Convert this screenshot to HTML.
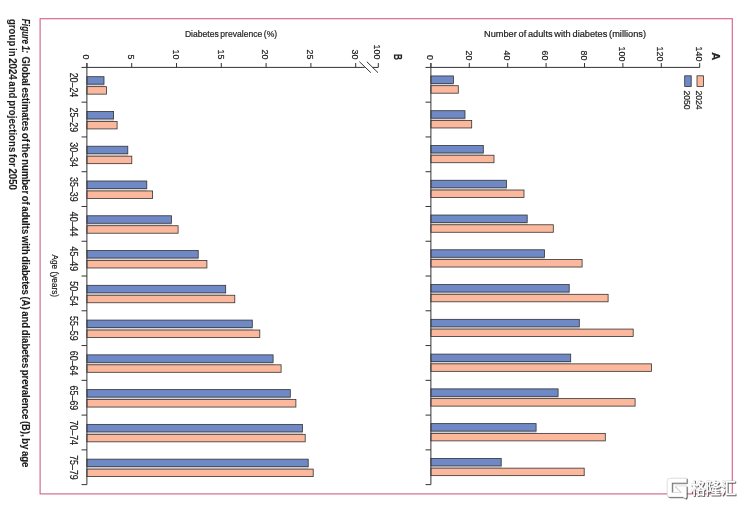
<!DOCTYPE html>
<html lang="en"><head><meta charset="utf-8"><title>Figure 1</title>
<style>html,body{margin:0;padding:0;background:#fff}body{width:742px;height:505px;overflow:hidden;position:relative}svg{display:block;position:absolute;left:0;top:0}text{font-family:"Liberation Sans","Noto Sans CJK SC",sans-serif;fill:#1c1c1c}.t{font-size:9.5px;stroke:#1c1c1c;stroke-width:0.2px}.cap{font-size:10px;font-weight:bold;fill:#1c1c1c;stroke:#1c1c1c;stroke-width:0.1px;word-spacing:-1.1px}.wm{font-family:"Liberation Sans","Noto Sans CJK SC",sans-serif;font-weight:500}</style></head><body>
<svg width="742" height="505" viewBox="0 0 742 505">
<rect x="0" y="0" width="742" height="505" fill="#fff"/>
<rect x="40.1" y="18.7" width="692.2" height="475.2" fill="none" stroke="#d66688" stroke-width="1.15"/>
<rect x="430.90" y="83.44" width="22.90" height="2.35" fill="#d6d6d6"/>
<rect x="430.90" y="75.94" width="22.50" height="7.5" fill="#6f88c6" stroke="#333" stroke-width="0.8"/>
<rect x="430.90" y="85.69" width="27.40" height="7.5" fill="#fbb89d" stroke="#333" stroke-width="0.8"/>
<rect x="430.90" y="118.21" width="34.50" height="2.35" fill="#d6d6d6"/>
<rect x="430.90" y="110.71" width="34.10" height="7.5" fill="#6f88c6" stroke="#333" stroke-width="0.8"/>
<rect x="430.90" y="120.46" width="40.80" height="7.5" fill="#fbb89d" stroke="#333" stroke-width="0.8"/>
<rect x="430.90" y="152.98" width="52.80" height="2.35" fill="#d6d6d6"/>
<rect x="430.90" y="145.48" width="52.40" height="7.5" fill="#6f88c6" stroke="#333" stroke-width="0.8"/>
<rect x="430.90" y="155.23" width="63.10" height="7.5" fill="#fbb89d" stroke="#333" stroke-width="0.8"/>
<rect x="430.90" y="187.75" width="75.90" height="2.35" fill="#d6d6d6"/>
<rect x="430.90" y="180.25" width="75.50" height="7.5" fill="#6f88c6" stroke="#333" stroke-width="0.8"/>
<rect x="430.90" y="190.00" width="93.10" height="7.5" fill="#fbb89d" stroke="#333" stroke-width="0.8"/>
<rect x="430.90" y="222.52" width="96.70" height="2.35" fill="#d6d6d6"/>
<rect x="430.90" y="215.02" width="96.30" height="7.5" fill="#6f88c6" stroke="#333" stroke-width="0.8"/>
<rect x="430.90" y="224.77" width="122.40" height="7.5" fill="#fbb89d" stroke="#333" stroke-width="0.8"/>
<rect x="430.90" y="257.28" width="114.00" height="2.35" fill="#d6d6d6"/>
<rect x="430.90" y="249.78" width="113.60" height="7.5" fill="#6f88c6" stroke="#333" stroke-width="0.8"/>
<rect x="430.90" y="259.53" width="151.20" height="7.5" fill="#fbb89d" stroke="#333" stroke-width="0.8"/>
<rect x="430.90" y="292.06" width="138.70" height="2.35" fill="#d6d6d6"/>
<rect x="430.90" y="284.56" width="138.30" height="7.5" fill="#6f88c6" stroke="#333" stroke-width="0.8"/>
<rect x="430.90" y="294.31" width="177.20" height="7.5" fill="#fbb89d" stroke="#333" stroke-width="0.8"/>
<rect x="430.90" y="326.83" width="148.80" height="2.35" fill="#d6d6d6"/>
<rect x="430.90" y="319.33" width="148.40" height="7.5" fill="#6f88c6" stroke="#333" stroke-width="0.8"/>
<rect x="430.90" y="329.08" width="202.30" height="7.5" fill="#fbb89d" stroke="#333" stroke-width="0.8"/>
<rect x="430.90" y="361.60" width="140.20" height="2.35" fill="#d6d6d6"/>
<rect x="430.90" y="354.10" width="139.80" height="7.5" fill="#6f88c6" stroke="#333" stroke-width="0.8"/>
<rect x="430.90" y="363.85" width="220.60" height="7.5" fill="#fbb89d" stroke="#333" stroke-width="0.8"/>
<rect x="430.90" y="396.37" width="127.60" height="2.35" fill="#d6d6d6"/>
<rect x="430.90" y="388.87" width="127.20" height="7.5" fill="#6f88c6" stroke="#333" stroke-width="0.8"/>
<rect x="430.90" y="398.62" width="204.20" height="7.5" fill="#fbb89d" stroke="#333" stroke-width="0.8"/>
<rect x="430.90" y="431.13" width="105.60" height="2.35" fill="#d6d6d6"/>
<rect x="430.90" y="423.63" width="105.20" height="7.5" fill="#6f88c6" stroke="#333" stroke-width="0.8"/>
<rect x="430.90" y="433.38" width="174.40" height="7.5" fill="#fbb89d" stroke="#333" stroke-width="0.8"/>
<rect x="430.90" y="465.90" width="70.70" height="2.35" fill="#d6d6d6"/>
<rect x="430.90" y="458.40" width="70.30" height="7.5" fill="#6f88c6" stroke="#333" stroke-width="0.8"/>
<rect x="430.90" y="468.15" width="153.30" height="7.5" fill="#fbb89d" stroke="#333" stroke-width="0.8"/>
<rect x="86.90" y="84.19" width="17.50" height="2.55" fill="#d6d6d6"/>
<rect x="86.90" y="76.69" width="17.10" height="7.5" fill="#6f88c6" stroke="#333" stroke-width="0.8"/>
<rect x="86.90" y="86.64" width="19.60" height="7.5" fill="#fbb89d" stroke="#333" stroke-width="0.8"/>
<rect x="86.90" y="118.96" width="27.10" height="2.55" fill="#d6d6d6"/>
<rect x="86.90" y="111.46" width="26.70" height="7.5" fill="#6f88c6" stroke="#333" stroke-width="0.8"/>
<rect x="86.90" y="121.41" width="30.20" height="7.5" fill="#fbb89d" stroke="#333" stroke-width="0.8"/>
<rect x="86.90" y="153.73" width="41.30" height="2.55" fill="#d6d6d6"/>
<rect x="86.90" y="146.23" width="40.90" height="7.5" fill="#6f88c6" stroke="#333" stroke-width="0.8"/>
<rect x="86.90" y="156.18" width="44.90" height="7.5" fill="#fbb89d" stroke="#333" stroke-width="0.8"/>
<rect x="86.90" y="188.50" width="60.30" height="2.55" fill="#d6d6d6"/>
<rect x="86.90" y="181.00" width="59.90" height="7.5" fill="#6f88c6" stroke="#333" stroke-width="0.8"/>
<rect x="86.90" y="190.95" width="65.70" height="7.5" fill="#fbb89d" stroke="#333" stroke-width="0.8"/>
<rect x="86.90" y="223.27" width="84.90" height="2.55" fill="#d6d6d6"/>
<rect x="86.90" y="215.77" width="84.50" height="7.5" fill="#6f88c6" stroke="#333" stroke-width="0.8"/>
<rect x="86.90" y="225.72" width="91.20" height="7.5" fill="#fbb89d" stroke="#333" stroke-width="0.8"/>
<rect x="86.90" y="258.03" width="111.70" height="2.55" fill="#d6d6d6"/>
<rect x="86.90" y="250.53" width="111.30" height="7.5" fill="#6f88c6" stroke="#333" stroke-width="0.8"/>
<rect x="86.90" y="260.48" width="120.00" height="7.5" fill="#fbb89d" stroke="#333" stroke-width="0.8"/>
<rect x="86.90" y="292.81" width="139.20" height="2.55" fill="#d6d6d6"/>
<rect x="86.90" y="285.31" width="138.80" height="7.5" fill="#6f88c6" stroke="#333" stroke-width="0.8"/>
<rect x="86.90" y="295.25" width="147.90" height="7.5" fill="#fbb89d" stroke="#333" stroke-width="0.8"/>
<rect x="86.90" y="327.58" width="165.80" height="2.55" fill="#d6d6d6"/>
<rect x="86.90" y="320.08" width="165.40" height="7.5" fill="#6f88c6" stroke="#333" stroke-width="0.8"/>
<rect x="86.90" y="330.03" width="172.90" height="7.5" fill="#fbb89d" stroke="#333" stroke-width="0.8"/>
<rect x="86.90" y="362.35" width="186.60" height="2.55" fill="#d6d6d6"/>
<rect x="86.90" y="354.85" width="186.20" height="7.5" fill="#6f88c6" stroke="#333" stroke-width="0.8"/>
<rect x="86.90" y="364.80" width="194.20" height="7.5" fill="#fbb89d" stroke="#333" stroke-width="0.8"/>
<rect x="86.90" y="397.12" width="203.80" height="2.55" fill="#d6d6d6"/>
<rect x="86.90" y="389.62" width="203.40" height="7.5" fill="#6f88c6" stroke="#333" stroke-width="0.8"/>
<rect x="86.90" y="399.56" width="209.00" height="7.5" fill="#fbb89d" stroke="#333" stroke-width="0.8"/>
<rect x="86.90" y="431.88" width="215.90" height="2.55" fill="#d6d6d6"/>
<rect x="86.90" y="424.38" width="215.50" height="7.5" fill="#6f88c6" stroke="#333" stroke-width="0.8"/>
<rect x="86.90" y="434.33" width="218.30" height="7.5" fill="#fbb89d" stroke="#333" stroke-width="0.8"/>
<rect x="86.90" y="466.65" width="221.70" height="2.55" fill="#d6d6d6"/>
<rect x="86.90" y="459.15" width="221.30" height="7.5" fill="#6f88c6" stroke="#333" stroke-width="0.8"/>
<rect x="86.90" y="469.10" width="226.30" height="7.5" fill="#fbb89d" stroke="#333" stroke-width="0.8"/>
<path d="M430.90 63 V484.64" stroke="#333" stroke-width="1" fill="none"/>
<path d="M425.50 67.40 H430.90M425.50 102.17 H430.90M425.50 136.94 H430.90M425.50 171.71 H430.90M425.50 206.48 H430.90M425.50 241.25 H430.90M425.50 276.02 H430.90M425.50 310.79 H430.90M425.50 345.56 H430.90M425.50 380.33 H430.90M425.50 415.10 H430.90M425.50 449.87 H430.90M425.50 484.64 H430.90" stroke="#333" stroke-width="1" fill="none"/>
<path d="M86.90 63 V484.64" stroke="#333" stroke-width="1" fill="none"/>
<path d="M81.50 67.40 H86.90M81.50 102.17 H86.90M81.50 136.94 H86.90M81.50 171.71 H86.90M81.50 206.48 H86.90M81.50 241.25 H86.90M81.50 276.02 H86.90M81.50 310.79 H86.90M81.50 345.56 H86.90M81.50 380.33 H86.90M81.50 415.10 H86.90M81.50 449.87 H86.90M81.50 484.64 H86.90" stroke="#333" stroke-width="1" fill="none"/>
<path d="M430.90 67.40 H699.8" stroke="#333" stroke-width="1" fill="none"/>
<path d="M430.90 63 V67.40M469.30 63 V67.40M507.70 63 V67.40M546.10 63 V67.40M584.50 63 V67.40M622.90 63 V67.40M661.30 63 V67.40M699.70 63 V67.40" stroke="#333" stroke-width="1" fill="none"/>
<text class="t" transform="translate(427.20 59.90) rotate(90) scale(0.93 1)" text-anchor="end">0</text>
<text class="t" transform="translate(465.60 60.40) rotate(90) scale(0.93 1)" text-anchor="end">20</text>
<text class="t" transform="translate(504.00 60.40) rotate(90) scale(0.93 1)" text-anchor="end">40</text>
<text class="t" transform="translate(542.40 60.40) rotate(90) scale(0.93 1)" text-anchor="end">60</text>
<text class="t" transform="translate(580.80 60.40) rotate(90) scale(0.93 1)" text-anchor="end">80</text>
<text class="t" transform="translate(619.00 61.30) rotate(90) scale(0.93 1)" text-anchor="end">100</text>
<text class="t" transform="translate(657.40 61.30) rotate(90) scale(0.93 1)" text-anchor="end">120</text>
<text class="t" transform="translate(695.80 61.30) rotate(90) scale(0.93 1)" text-anchor="end">140</text>
<path d="M86.90 67.40 H364.6 M372.6 67.40 H378.3" stroke="#333" stroke-width="1" fill="none"/>
<path d="M86.90 63 V67.40M131.70 63 V67.40M176.50 63 V67.40M221.30 63 V67.40M266.10 63 V67.40M310.90 63 V67.40M355.70 63 V67.40M378.3 63 V67.40M359.4 61.7 L370.9 72.7 M366.8 61.7 L378 72.7" stroke="#333" stroke-width="1" fill="none"/>
<text class="t" transform="translate(83.20 59.30) rotate(90) scale(0.93 1)" text-anchor="end">0</text>
<text class="t" transform="translate(128.00 59.30) rotate(90) scale(0.93 1)" text-anchor="end">5</text>
<text class="t" transform="translate(172.80 59.30) rotate(90) scale(0.93 1)" text-anchor="end">10</text>
<text class="t" transform="translate(217.60 59.30) rotate(90) scale(0.93 1)" text-anchor="end">15</text>
<text class="t" transform="translate(262.40 59.30) rotate(90) scale(0.93 1)" text-anchor="end">20</text>
<text class="t" transform="translate(307.20 59.30) rotate(90) scale(0.93 1)" text-anchor="end">25</text>
<text class="t" transform="translate(352.00 59.30) rotate(90) scale(0.93 1)" text-anchor="end">30</text>
<text class="t" transform="translate(373.50 59.30) rotate(90) scale(0.93 1)" text-anchor="end">100</text>
<text class="t" transform="translate(70.20 84.99) rotate(90)" text-anchor="middle" style="font-size:10.2px" textLength="24.6" lengthAdjust="spacingAndGlyphs">20–24</text>
<text class="t" transform="translate(70.20 119.76) rotate(90)" text-anchor="middle" style="font-size:10.2px" textLength="24.6" lengthAdjust="spacingAndGlyphs">25–29</text>
<text class="t" transform="translate(70.20 154.53) rotate(90)" text-anchor="middle" style="font-size:10.2px" textLength="24.6" lengthAdjust="spacingAndGlyphs">30–34</text>
<text class="t" transform="translate(70.20 189.30) rotate(90)" text-anchor="middle" style="font-size:10.2px" textLength="24.6" lengthAdjust="spacingAndGlyphs">35–39</text>
<text class="t" transform="translate(70.20 224.06) rotate(90)" text-anchor="middle" style="font-size:10.2px" textLength="24.6" lengthAdjust="spacingAndGlyphs">40–44</text>
<text class="t" transform="translate(70.20 258.83) rotate(90)" text-anchor="middle" style="font-size:10.2px" textLength="24.6" lengthAdjust="spacingAndGlyphs">45–49</text>
<text class="t" transform="translate(70.20 293.61) rotate(90)" text-anchor="middle" style="font-size:10.2px" textLength="24.6" lengthAdjust="spacingAndGlyphs">50–54</text>
<text class="t" transform="translate(70.20 328.38) rotate(90)" text-anchor="middle" style="font-size:10.2px" textLength="24.6" lengthAdjust="spacingAndGlyphs">55–59</text>
<text class="t" transform="translate(70.20 363.15) rotate(90)" text-anchor="middle" style="font-size:10.2px" textLength="24.6" lengthAdjust="spacingAndGlyphs">60–64</text>
<text class="t" transform="translate(70.20 397.92) rotate(90)" text-anchor="middle" style="font-size:10.2px" textLength="24.6" lengthAdjust="spacingAndGlyphs">65–69</text>
<text class="t" transform="translate(70.20 432.69) rotate(90)" text-anchor="middle" style="font-size:10.2px" textLength="24.6" lengthAdjust="spacingAndGlyphs">70–74</text>
<text class="t" transform="translate(70.20 467.45) rotate(90)" text-anchor="middle" style="font-size:10.2px" textLength="24.6" lengthAdjust="spacingAndGlyphs">75–79</text>
<text class="t" transform="translate(52.20 275.80) rotate(90)" text-anchor="middle" textLength="42.6" lengthAdjust="spacingAndGlyphs">Age (years)</text>
<text class="t" style="font-size:9.2px;word-spacing:-0.8px" x="184.9" y="36.6" textLength="92.3" lengthAdjust="spacingAndGlyphs">Diabetes prevalence (%)</text>
<text class="t" style="font-size:9.2px;word-spacing:-0.8px" x="484" y="36.6" textLength="162" lengthAdjust="spacingAndGlyphs">Number of adults with diabetes (millions)</text>
<text class="t" transform="translate(711.90 52.20) rotate(90)" text-anchor="start" style="font-size:11.3px;font-weight:bold;fill:#222">A</text>
<text class="t" transform="translate(393.80 53.90) rotate(90)" text-anchor="start" style="font-size:11.3px;font-weight:bold;fill:#222" textLength="6" lengthAdjust="spacingAndGlyphs">B</text>
<rect x="697" y="75.8" width="6.5" height="10.7" fill="#fbb89d" stroke="#333" stroke-width="0.8"/>
<rect x="684.7" y="75.8" width="6.5" height="10.7" fill="#6f88c6" stroke="#333" stroke-width="0.8"/>
<text class="t" transform="translate(695.60 90.40) rotate(90)" text-anchor="start" textLength="19.3" lengthAdjust="spacingAndGlyphs">2024</text>
<text class="t" transform="translate(683.80 90.40) rotate(90)" text-anchor="start" textLength="19.3" lengthAdjust="spacingAndGlyphs">2050</text>
<text class="cap" transform="translate(22.00 18.70) rotate(90)" textLength="34.40" lengthAdjust="spacingAndGlyphs" font-style="italic">Figure 1:</text>
<text class="cap" transform="translate(22.00 56.40) rotate(90)" textLength="411.00" lengthAdjust="spacingAndGlyphs">Global estimates of the number of adults with diabetes (A) and diabetes prevalence (B), by age</text>
<text class="cap" transform="translate(9.40 18.90) rotate(90)" textLength="171.10" lengthAdjust="spacingAndGlyphs">group in 2024 and projections for 2050</text>
<defs><filter id="ds" x="-20%" y="-20%" width="150%" height="150%"><feDropShadow dx="0.8" dy="0.8" stdDeviation="0.35" flood-color="#222" flood-opacity="0.95"/></filter></defs>
<g filter="url(#ds)">
<path d="M670 478.3 H686.6 V482.8 H671.9 V492.5 H681.4 L674.9 486 H686.6 V497 L685.6 498.4 L682.8 497 H670 Q667.2 497 667.2 494.2 V481.1 Q667.2 478.3 670 478.3 Z" fill="#fff" stroke="#bbb" stroke-width="0.4"/>
<text class="wm" x="690.4" y="493.8" font-size="15.5" textLength="45.6" lengthAdjust="spacingAndGlyphs" style="fill:#fff;stroke:#bbb;stroke-width:0.3px;paint-order:stroke fill">格隆汇</text>
</g>
</svg></body></html>
